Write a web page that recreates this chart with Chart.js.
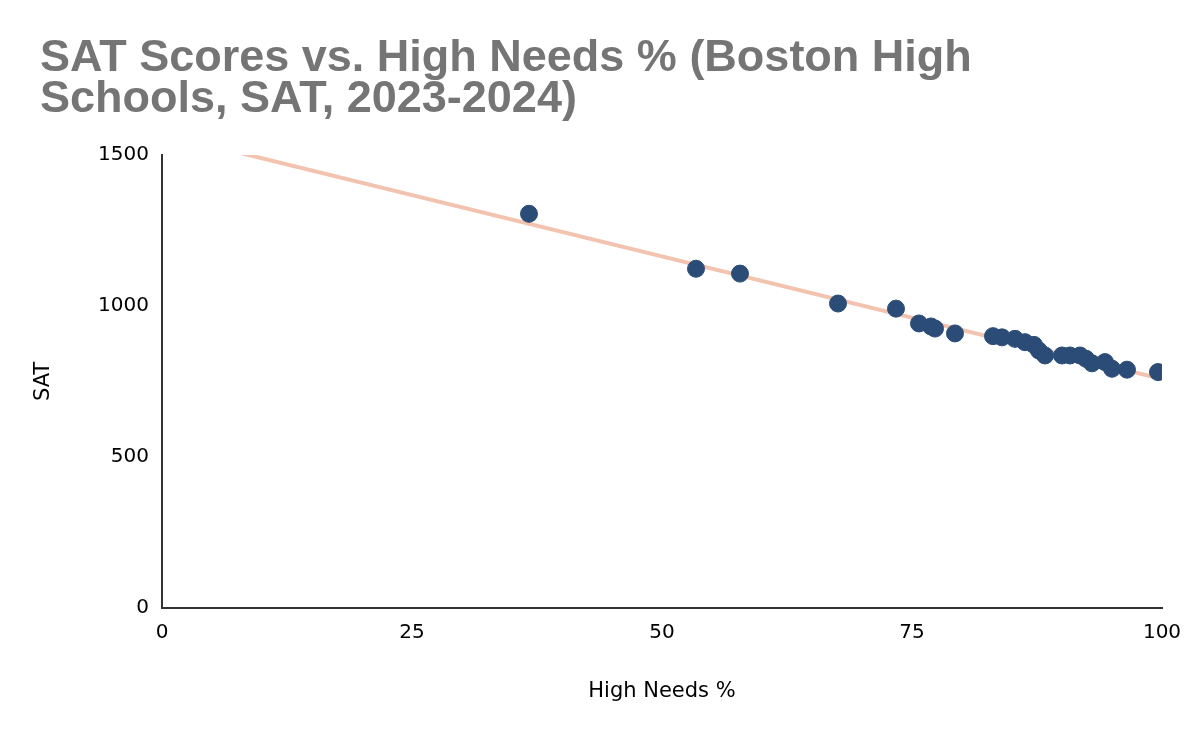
<!DOCTYPE html>
<html>
<head>
<meta charset="utf-8">
<script src="https://cdn.jsdelivr.net/npm/chart.js@4"></script>
<style>
  html, body { margin: 0; padding: 0; background: #ffffff; }
  #wrap { width: 1200px; height: 742px; }
</style>
</head>
<body>
<div id="wrap"><canvas id="c" width="1200" height="742"></canvas></div>
<script>
const titleLines = ["SAT Scores vs. High Needs % (Boston High", "Schools, SAT, 2023-2024)"];
const xAxisTitle = "High Needs %";
const yAxisTitle = "SAT";

const highNeeds = [36.7, 53.4, 57.8, 67.6, 73.4, 75.7, 76.9, 77.3, 79.3, 83.1, 84.0, 85.3, 86.3, 87.2, 87.7, 88.3, 90.0, 90.8, 91.8, 92.4, 93.0, 94.3, 95.0, 96.5, 99.6];
const satScores = [1305, 1123, 1107, 1008, 991, 942, 932, 925, 909, 900, 896, 891, 880, 871, 852, 836, 836, 836, 836, 825, 810, 814, 792, 789, 781];

const trendX = [0, 100];
const trendY = [1570, 758];

const xTicks = [0, 25, 50, 75, 100];
const yTicks = [0, 500, 1000, 1500];

const points = highNeeds.map((x, i) => ({ x: x, y: satScores[i] }));
const trend = trendX.map((x, i) => ({ x: x, y: trendY[i] }));

const tickFont = { family: "'DejaVu Sans', sans-serif", size: 20 };
const axisTitleFont = { family: "'DejaVu Sans', sans-serif", size: 21 };

new Chart(document.getElementById('c'), {
  type: 'scatter',
  data: {
    datasets: [
      {
        label: 'SAT',
        data: points,
        backgroundColor: '#2b4c76',
        borderColor: '#2b4c76',
        pointRadius: 8.5,
        pointHoverRadius: 8.5,
        order: 1
      },
      {
        type: 'line',
        label: 'Trend',
        data: trend,
        borderColor: '#f2c4b0',
        borderWidth: 4,
        pointRadius: 0,
        fill: false,
        order: 2
      }
    ]
  },
  options: {
    responsive: false,
    animation: false,
    layout: { padding: { left: 40, right: 38, top: 0, bottom: 0 } },
    plugins: {
      legend: { display: false },
      tooltip: { enabled: false },
      title: {
        display: true,
        text: titleLines,
        align: 'start',
        color: '#757575',
        font: { family: "'Liberation Sans', Arial, sans-serif", size: 45, weight: 'bold', lineHeight: 0.91 },
        padding: { top: 38, bottom: 35 }
      }
    },
    scales: {
      x: {
        type: 'linear',
        min: 0,
        max: 100,
        afterBuildTicks: (s) => { s.ticks = xTicks.map(v => ({ value: v })); },
        afterFit: (s) => { s.height = 134; },
        grid: { display: false, drawTicks: false },
        border: { display: true, color: '#333333', width: 2 },
        ticks: { color: '#000000', padding: 13, font: tickFont, maxRotation: 0, callback: (v) => String(v) },
        title: { display: true, text: xAxisTitle, color: '#000000', font: axisTitleFont, padding: { top: 0, bottom: 38 } }
      },
      y: {
        type: 'linear',
        min: 0,
        max: 1500,
        afterBuildTicks: (s) => { s.ticks = yTicks.map(v => ({ value: v })); },
        afterFit: (s) => { s.width = 122; },
        grid: { display: false, drawTicks: false },
        border: { display: true, color: '#333333', width: 2 },
        ticks: { color: '#000000', padding: 13, font: tickFont, callback: (v) => String(v) },
        title: { display: true, text: yAxisTitle, color: '#000000', font: axisTitleFont, padding: { top: -9, bottom: 0 } }
      }
    }
  }
});
</script>
</body>
</html>
